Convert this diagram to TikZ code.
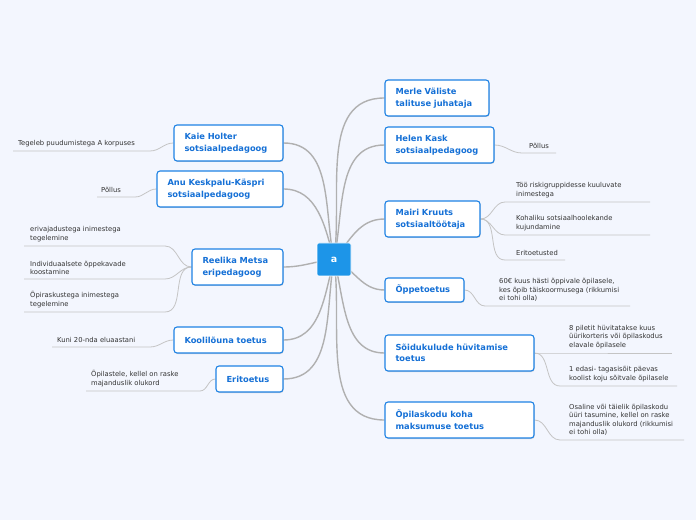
\documentclass[tikz,border=0pt]{standalone}
\usepackage{fontspec}
\setmainfont{DejaVu Sans}
\usetikzlibrary{shadows}
\definecolor{bgc}{HTML}{F3F6FE}
\definecolor{bluebd}{HTML}{1E82E4}
\definecolor{bluetx}{HTML}{1570D6}
\definecolor{centerc}{HTML}{1D95E8}
\definecolor{linec}{HTML}{B0B0B0}
\definecolor{leafline}{HTML}{C4C4C4}
\definecolor{leaftx}{HTML}{333333}
\pgfdeclarelayer{bg}
\pgfdeclarelayer{links}
\pgfsetlayers{bg,links,main}
\tikzset{
  topic/.style={draw=bluebd, line width=1.1pt, fill=white, rounded corners=3pt,
    text=bluetx, font=\bfseries\fontsize{8.3}{11.6}\selectfont, align=left,
    inner xsep=10.5pt, inner ysep=0pt, anchor=center,
    drop shadow={shadow xshift=0.6pt, shadow yshift=-1pt, opacity=0.25, fill=black!60}},
  leaf/.style={text=leaftx, font=\fontsize{6.8}{8.6}\selectfont, align=left,
    inner sep=0pt, anchor=south west},
  mainlink/.style={draw=linec, line width=1.4pt},
  leaflink/.style={draw=leafline, line width=0.8pt},
}
\begin{document}
\begin{tikzpicture}[x=1pt,y=1pt]
\begin{pgfonlayer}{bg}
\fill[bgc] (0,0) rectangle (696,520);
\end{pgfonlayer}
\useasboundingbox (0,0) rectangle (696,520);

% center
\node[fill=centerc, rounded corners=2pt, draw=white, line width=0.6pt,
  minimum width=34pt, minimum height=33pt, inner sep=0pt,
  text=white, font=\bfseries\fontsize{9.5}{11}\selectfont] (c) at (334,260.5) {a};

% right topics
\node[topic, minimum width=104pt, minimum height=36pt, text width=83pt] (merle) at (437,422) {Merle Väliste\\talituse juhataja};
\node[topic, minimum width=109pt, minimum height=36pt, text width=88pt] (helen) at (439.5,375) {Helen Kask\\sotsiaalpedagoog};
\node[topic, minimum width=95pt, minimum height=36pt, text width=74pt] (mairi) at (432.5,301) {Mairi Kruuts\\sotsiaaltöötaja};
\node[topic, minimum width=79pt, minimum height=24pt, text width=58pt] (oppe) at (424.5,230) {Õppetoetus};
\node[topic, minimum width=149pt, minimum height=36pt, text width=128pt] (soidu) at (459.5,167) {Sõidukulude hüvitamise\\toetus};
\node[topic, minimum width=149pt, minimum height=36pt, text width=128pt] (opilas) at (459.5,100) {Õpilaskodu koha\\maksumuse toetus};

% left topics
\node[topic, minimum width=109pt, minimum height=36pt, text width=88pt] (kaie) at (228.5,377) {Kaie Holter\\sotsiaalpedagoog};
\node[topic, minimum width=126pt, minimum height=36pt, text width=105pt] (anu) at (220,331) {Anu Keskpalu-Käspri\\sotsiaalpedagoog};
\node[topic, minimum width=91pt, minimum height=36pt, text width=70pt] (reelika) at (237.5,253) {Reelika Metsa\\eripedagoog};
\node[topic, minimum width=109pt, minimum height=26pt, text width=88pt] (kool) at (228.5,180) {Koolilõuna toetus};
\node[topic, minimum width=67pt, minimum height=26pt, text width=46pt] (eri) at (249.5,141) {Eritoetus};

% leaf texts and line coordinates (left)
\node[leaf] (lk) at (18,373) {Tegeleb puudumistega A korpuses};
\coordinate (lka) at (13,369); \coordinate (lkb) at (150,369);
\node[leaf] (la) at (101,327) {Põllus};
\coordinate (laa) at (97,323); \coordinate (lab) at (135,323);
\node[leaf] (lr1) at (30,278) {erivajadustega inimestega\\tegelemine};
\coordinate (lr1a) at (24,274); \coordinate (lr1b) at (165,274);
\node[leaf] (lr2) at (30,245) {Individuaalsete õppekavade\\koostamine};
\coordinate (lr2a) at (24,241); \coordinate (lr2b) at (165,241);
\node[leaf] (lr3) at (30,212) {Õpiraskustega inimestega\\tegelemine};
\coordinate (lr3a) at (24,208); \coordinate (lr3b) at (165,208);
\node[leaf] (lko) at (57,177) {Kuni 20-nda eluaastani};
\coordinate (lkoa) at (52,173); \coordinate (lkob) at (150,173);
\node[leaf] (le) at (91,133) {Õpilastele, kellel on raske\\majanduslik olukord};
\coordinate (lea) at (86,129); \coordinate (leb) at (200,129);

% leaf texts (right)
\node[leaf] (rh) at (529,371) {Põllus};
\coordinate (rha) at (522,367); \coordinate (rhb) at (556,367);
\node[leaf] (rm1) at (516,322) {Töö riskigruppidesse kuuluvate\\inimestega};
\coordinate (rm1a) at (505,318); \coordinate (rm1b) at (650,318);
\node[leaf] (rm2) at (516,289) {Kohaliku sotsiaalhoolekande\\kujundamine};
\coordinate (rm2a) at (505,285); \coordinate (rm2b) at (650,285);
\node[leaf] (rm3) at (516,264) {Eritoetusted};
\coordinate (rm3a) at (505,260); \coordinate (rm3b) at (565,260);
\node[leaf] (ro) at (499,218) {60€ kuus hästi õppivale õpilasele,\\kes õpib täiskoormusega (rikkumisi\\ei tohi olla)};
\coordinate (roa) at (485,214); \coordinate (rob) at (630,214);
\node[leaf] (rs1) at (569,171) {8 piletit hüvitatakse kuus\\üürikorteris või õpilaskodus\\elavale õpilasele};
\coordinate (rs1a) at (545,167); \coordinate (rs1b) at (672,167);
\node[leaf] (rs2) at (569,138) {1 edasi- tagasisõit päevas\\koolist koju sõitvale õpilasele};
\coordinate (rs2a) at (560,134); \coordinate (rs2b) at (677,134);
\node[leaf] (rp) at (569,84) {Osaline või täielik õpilaskodu\\üüri tasumine, kellel on raske\\majanduslik olukord (rikkumisi\\ei tohi olla)};
\coordinate (rpa) at (560,80); \coordinate (rpb) at (684,80);

\begin{pgfonlayer}{links}
% main connectors
\draw[mainlink] (c.center) to[out=82,in=180] (merle.west);
\draw[mainlink] (c.center) to[out=78,in=180] (helen.west);
\draw[mainlink] (c.center) to[out=50,in=180] (mairi.west);
\draw[mainlink] (c.center) to[out=-25,in=180] (oppe.west);
\draw[mainlink] (c.center) to[out=-75,in=180] (soidu.west);
\draw[mainlink] (c.center) to[out=-82,in=180] (opilas.west);
\draw[mainlink] (c.center) to[out=102,in=0] (kaie.east);
\draw[mainlink] (c.center) to[out=105,in=0] (anu.east);
\draw[mainlink] (c.center) to[out=185,in=0] (reelika.east);
\draw[mainlink] (c.center) to[out=-105,in=0] (kool.east);
\draw[mainlink] (c.center) to[out=-100,in=0] (eri.east);
% leaf connectors left
\draw[leaflink] (lka) -- (lkb) to[out=0,in=180] (kaie.west);
\draw[leaflink] (laa) -- (lab) to[out=0,in=180] (anu.west);
\draw[leaflink] (lr1a) -- (lr1b) to[out=0,in=180] (reelika.west);
\draw[leaflink] (lr2a) -- (lr2b) to[out=0,in=180] (reelika.west);
\draw[leaflink] (lr3a) -- (lr3b) to[out=0,in=180] (reelika.west);
\draw[leaflink] (lkoa) -- (lkob) to[out=0,in=180] (kool.west);
\draw[leaflink] (lea) -- (leb) to[out=0,in=180] (eri.west);
% leaf connectors right
\draw[leaflink] (helen.east) to[out=0,in=180] (rha) -- (rhb);
\draw[leaflink] (mairi.east) to[out=0,in=180] (rm1a) -- (rm1b);
\draw[leaflink] (mairi.east) to[out=0,in=180] (rm2a) -- (rm2b);
\draw[leaflink] (mairi.east) to[out=0,in=180] (rm3a) -- (rm3b);
\draw[leaflink] (oppe.east) to[out=0,in=180] (roa) -- (rob);
\draw[leaflink] (soidu.east) to[out=0,in=180] (rs1a) -- (rs1b);
\draw[leaflink] (soidu.east) to[out=0,in=180] (rs2a) -- (rs2b);
\draw[leaflink] (opilas.east) to[out=0,in=180] (rpa) -- (rpb);
\end{pgfonlayer}
\end{tikzpicture}
\end{document}
